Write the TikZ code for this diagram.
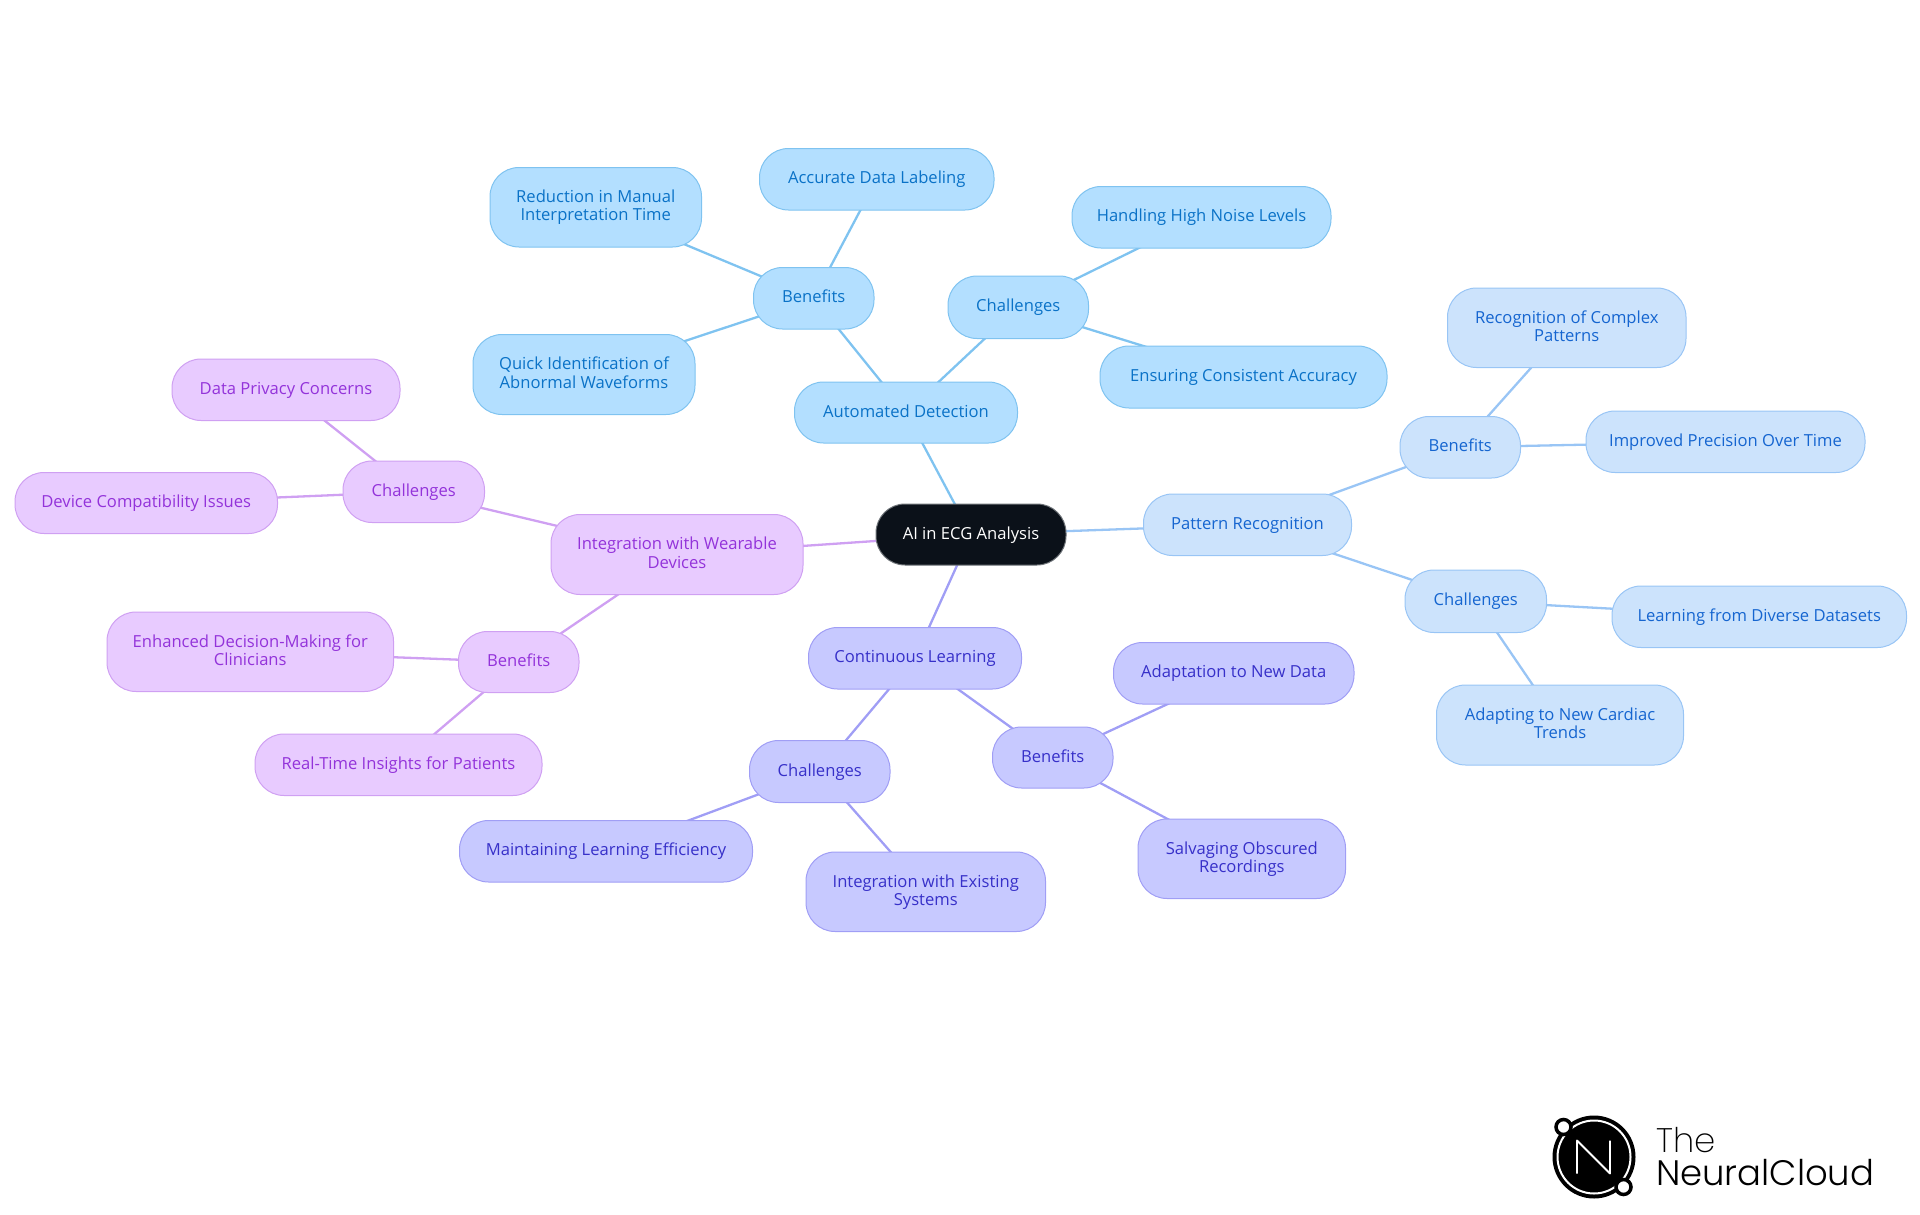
\documentclass[tikz,border=0pt]{standalone}
\usepackage{fontspec}
\setmainfont{Open Sans}
\newfontfamily\logofont{Poppins Light}
\newfontfamily\logothin{Poppins ExtraLight}
\pgfdeclarelayer{bg}
\pgfsetlayers{bg,main}
\definecolor{rootfill}{HTML}{0B1119}
\definecolor{rootedge}{HTML}{6E7378}
\definecolor{afill}{HTML}{B3DFFF}\definecolor{aline}{HTML}{7FC3F0}\definecolor{atext}{HTML}{0A72C7}
\definecolor{bfill}{HTML}{CCE3FC}\definecolor{bline}{HTML}{99C5F5}\definecolor{btext}{HTML}{1565D0}
\definecolor{cfill}{HTML}{C7C9FF}\definecolor{cline}{HTML}{A09EF5}\definecolor{ctext}{HTML}{3730C9}
\definecolor{dfill}{HTML}{E8CBFF}\definecolor{dline}{HTML}{CFA0F2}\definecolor{dtext}{HTML}{9333DA}
\tikzset{
  x=1pt,y=-1pt,
  mm/.style={rectangle,rounded corners=29pt,inner sep=0pt,align=center,line width=1pt,
    font=\fontsize{16.6}{18.4}\selectfont},
  rootnode/.style={mm,fill=rootfill,draw=rootedge,text=white},
  anode/.style={mm,fill=afill,draw=aline,text=atext},
  bnode/.style={mm,fill=bfill,draw=bline,text=btext},
  cnode/.style={mm,fill=cfill,draw=cline,text=ctext},
  dnode/.style={mm,fill=dfill,draw=dline,text=dtext},
  link/.style={line width=2.3pt},
}
\newcommand{\tstrut}{\rule[-4.4pt]{0pt}{17.8pt}}
\newcommand{\mnode}[7]{%
  \pgfmathsetmacro{\cxx}{(#3+#5)/2}\pgfmathsetmacro{\cyy}{(#4+#6)/2}%
  \pgfmathsetmacro{\www}{#5-#3}\pgfmathsetmacro{\hhh}{#6-#4}%
  \node[#2,minimum width=\www pt,minimum height=\hhh pt] (#1) at (\cxx,\cyy) {\tstrut #7\tstrut};}
\begin{document}
\begin{tikzpicture}
\useasboundingbox (0,0) rectangle (1920,1215);
\mnode{root}{rootnode}{876}{504}{1066}{565}{AI in ECG Analysis}
\mnode{auto}{anode}{794.5}{382}{1017.5}{443}{Automated Detection}
\mnode{aben}{anode}{753.5}{267.5}{874}{329}{Benefits}
\mnode{achal}{anode}{948}{276}{1088.5}{338.5}{Challenges}
\mnode{acc}{anode}{759.5}{148.5}{994}{210}{Accurate Data Labeling}
\mnode{red}{anode}{490}{167.5}{701.5}{247}{Reduction in Manual\\Interpretation Time}
\mnode{quick}{anode}{473}{334.5}{695}{414.5}{Quick Identification of\\Abnormal Waveforms}
\mnode{hand}{anode}{1072}{186.5}{1331}{248}{Handling High Noise Levels}
\mnode{ens}{anode}{1100}{346}{1387}{408}{Ensuring Consistent Accuracy}
\mnode{pat}{bnode}{1143.5}{494}{1351.5}{555.5}{Pattern Recognition}
\mnode{bben}{bnode}{1400}{416.5}{1520.5}{478}{Benefits}
\mnode{rec}{bnode}{1447.5}{288}{1686}{367.5}{Recognition of Complex\\Patterns}
\mnode{imp}{bnode}{1586}{411}{1865}{472.5}{Improved Precision Over Time}
\mnode{bchal}{bnode}{1405}{570}{1546.5}{632.5}{Challenges}
\mnode{learn}{bnode}{1612}{586}{1906.5}{647.5}{Learning from Diverse Datasets}
\mnode{adapt}{bnode}{1436.5}{685}{1683.5}{765}{Adapting to New Cardiac\\Trends}
\mnode{cont}{cnode}{808.5}{627.5}{1021.5}{689}{Continuous Learning}
\mnode{cben}{cnode}{992.5}{727}{1113}{788}{Benefits}
\mnode{newd}{cnode}{1113.5}{642.5}{1354}{704}{Adaptation to New Data}
\mnode{salv}{cnode}{1138}{819}{1345.5}{898.5}{Salvaging Obscured\\Recordings}
\mnode{cchal}{cnode}{749.5}{740.5}{890}{802.5}{Challenges}
\mnode{maint}{cnode}{459.5}{820.5}{752.5}{882}{Maintaining Learning Efficiency}
\mnode{exist}{cnode}{806}{852}{1045.5}{931.5}{Integration with Existing\\Systems}
\mnode{wear}{dnode}{551}{514.5}{803}{594.5}{Integration with Wearable\\Devices}
\mnode{dchal}{dnode}{343}{461}{484.5}{522.5}{Challenges}
\mnode{priv}{dnode}{172}{359}{400}{420.5}{Data Privacy Concerns}
\mnode{dev}{dnode}{15}{472.5}{277.5}{533.5}{Device Compatibility Issues}
\mnode{dben}{dnode}{458.5}{631.5}{579}{692.5}{Benefits}
\mnode{enh}{dnode}{107}{612}{393.5}{691.5}{Enhanced Decision-Making for\\Clinicians}
\mnode{real}{dnode}{255}{734}{542}{795.5}{Real-Time Insights for Patients}
\begin{pgfonlayer}{bg}
\foreach \p/\q in {root/auto,auto/aben,auto/achal,aben/acc,aben/red,aben/quick,achal/hand,achal/ens}
  \draw[link,aline] (\p.center) -- (\q.center);
\foreach \p/\q in {root/pat,pat/bben,bben/rec,bben/imp,pat/bchal,bchal/learn,bchal/adapt}
  \draw[link,bline] (\p.center) -- (\q.center);
\foreach \p/\q in {root/cont,cont/cben,cben/newd,cben/salv,cont/cchal,cchal/maint,cchal/exist}
  \draw[link,cline] (\p.center) -- (\q.center);
\foreach \p/\q in {root/wear,wear/dchal,dchal/priv,dchal/dev,wear/dben,dben/enh,dben/real}
  \draw[link,dline] (\p.center) -- (\q.center);
\end{pgfonlayer}
% logo
\fill[black] (1594,1157) circle (41.5);
\draw[white,line width=2pt] (1594,1157) circle (36.5);
\draw[white,line width=1.8pt,line join=round] (1577,1173.5) -- (1577,1140.5) -- (1610,1173.5) -- (1610,1140.5);
\draw[black,line width=3.5pt,fill=white] (1563.5,1127) circle (7.5);
\draw[black,line width=3.5pt,fill=white] (1623.5,1187) circle (7.5);
\node[anchor=base west,inner sep=0pt,font=\logothin\fontsize{34}{34}\selectfont] (lthe) at (1656,1152) {The};
\node[anchor=base west,inner sep=0pt,font=\logofont\fontsize{35.4}{35.4}\selectfont] (lnc) at (1656,1185) {NeuralCloud};
\end{tikzpicture}
\end{document}
